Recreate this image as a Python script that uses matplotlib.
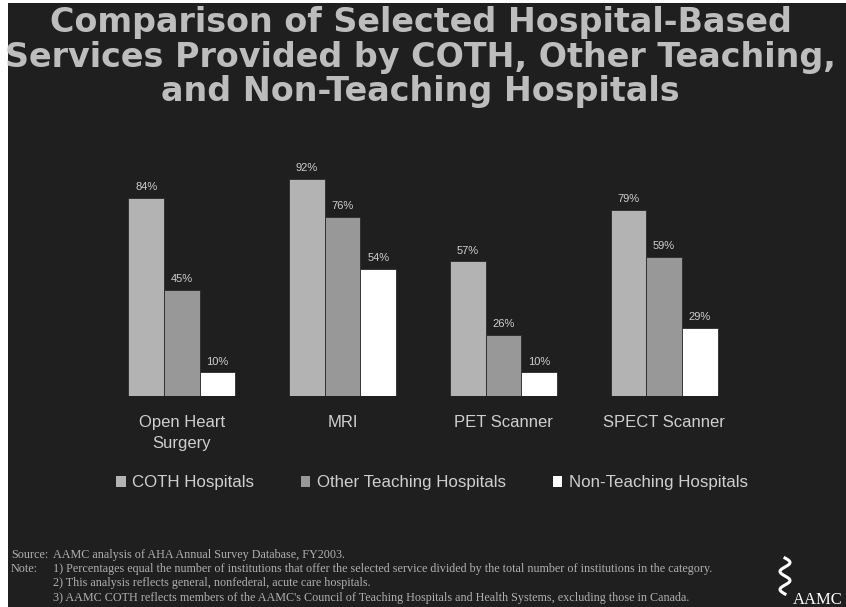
import numpy as np
import matplotlib
matplotlib.use("Agg")
import matplotlib.pyplot as plt
from matplotlib.patches import Rectangle, Patch

# data
services = ["Open Heart\nSurgery", "MRI", "PET Scanner", "SPECT Scanner"]
coth = [84, 92, 57, 79]
other_teaching = [45, 76, 26, 59]
non_teaching = [10, 54, 10, 29]
series_names = ["COTH Hospitals", "Other Teaching Hospitals", "Non-Teaching Hospitals"]

title = ("Comparison of Selected Hospital-Based\n"
         "Services Provided by COTH, Other Teaching,\n"
         "and Non-Teaching Hospitals")
notes_labels = ["Source:", "Note:", "", ""]
notes_lines = [
    "AAMC analysis of AHA Annual Survey Database, FY2003.",
    "1) Percentages equal the number of institutions that offer the selected service divided by the total number of institutions in the category.",
    "2) This analysis reflects general, nonfederal, acute care hospitals.",
    "3) AAMC COTH reflects members of the AAMC's Council of Teaching Hospitals and Health Systems, excluding those in Canada.",
]

BG = "#1f1f1f"
colors = ["#b3b3b3", "#989898", "#ffffff"]
text_col = "#cfcfcf"

W, H = 846, 607
fig = plt.figure(figsize=(W / 100, H / 100), dpi=100, facecolor=BG)

# white strips on the left and top edges of the slide
fig.patches.append(Rectangle((0, 0), 8 / W, 1, transform=fig.transFigure,
                             facecolor="white", edgecolor="none", zorder=0))
fig.patches.append(Rectangle((0, 1 - 3 / H), 1, 3 / H, transform=fig.transFigure,
                             facecolor="white", edgecolor="none", zorder=0))

fig.text(0.497, 1 - 57 / H, title, ha="center", va="center", fontsize=24,
         fontweight="bold", color="#bdbdbd", family="DejaVu Sans",
         linespacing=1.05)

# axes: pixel 100..750 horizontally, baseline at y=396
ax = fig.add_axes([100 / W, (H - 396) / H, 650 / W, 246 / H])
ax.set_facecolor(BG)
x = np.arange(len(services))
bw = 0.222
for i, (vals, c) in enumerate(zip([coth, other_teaching, non_teaching], colors)):
    pos = x + (i - 1) * bw
    bars = ax.bar(pos, vals, width=bw, color=c, edgecolor="#2a2a2a", linewidth=0.6,
                  label=series_names[i])
    for b, v in zip(bars, vals):
        ax.annotate(f"{v}%", (b.get_x() + b.get_width() / 2, v), xytext=(0, 4),
                    textcoords="offset points", ha="center", va="bottom",
                    fontsize=8, color=text_col, family="Liberation Sans")

ax.set_xlim(-0.51, 3.535)
ax.set_ylim(0, 246 / 2.36)
ax.set_xticks(x)
ax.set_xticklabels(services, fontsize=12, color=text_col, family="Liberation Sans",
                   linespacing=1.45)
ax.tick_params(axis="x", length=0, pad=14)
ax.set_yticks([])
for s in ax.spines.values():
    s.set_visible(False)

handles = [Patch(facecolor=c, edgecolor="none") for c in colors]
fig.legend(handles, series_names, loc="center", bbox_to_anchor=(432 / W, 1 - 483 / H),
           ncol=3, frameon=False, handlelength=0.55, handleheight=0.55,
           handletextpad=0.4, columnspacing=2.75,
           prop={"family": "Liberation Sans", "size": 12.2}, labelcolor=text_col)

# footnotes
ys = [555, 569, 583, 598]
for lab, line, yy in zip(notes_labels, notes_lines, ys):
    if lab:
        fig.text(11 / W, 1 - yy / H, lab, ha="left", va="center", fontsize=8.75,
                 color="#b0b0b0", family="Liberation Serif")
    fig.text(53 / W, 1 - yy / H, line, ha="left", va="center", fontsize=8.75,
             color="#b0b0b0", family="Liberation Serif")

# logo
t = np.linspace(0, 1, 60)
fig.add_artist(plt.Line2D((785 + 5 * np.sin(t * 4 * np.pi)) / W, 1 - (558 + 36 * t) / H,
                          color="white", linewidth=2.2, transform=fig.transFigure))
fig.text(793 / W, 1 - 600 / H, "AAMC", ha="left", va="center", fontsize=12,
         color="white", family="Liberation Serif")

fig.savefig("out.png", dpi=100, facecolor=BG)
